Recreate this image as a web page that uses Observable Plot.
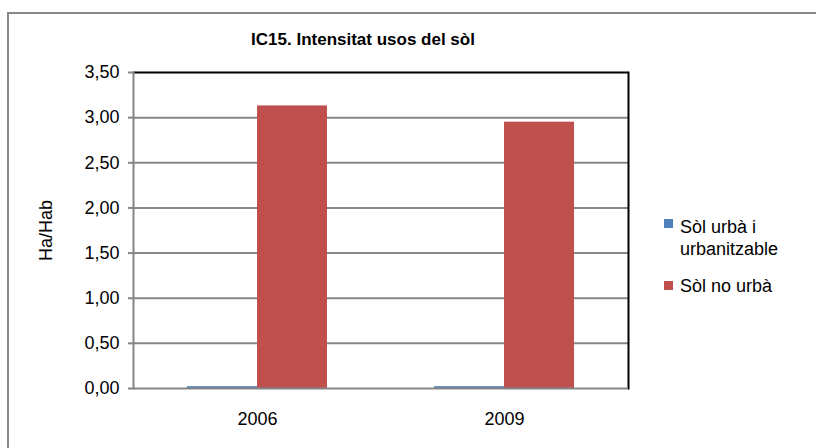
<!DOCTYPE html>
<html>
<head>
<meta charset="utf-8">
<script src="https://cdn.jsdelivr.net/npm/d3@7"></script>
<script src="https://cdn.jsdelivr.net/npm/@observablehq/plot@0.6"></script>
<style>
  html, body { margin: 0; padding: 0; background: white; }
  #wrap { position: relative; width: 816px; height: 448px; overflow: hidden; font-family: "Liberation Sans", Arial, sans-serif; }
  #border { position: absolute; left: 7px; top: 12px; width: 900px; height: 500px; border-left: 2px solid #888; border-top: 2px solid #888; pointer-events: none; }
  #title { position: absolute; left: 0; width: 726px; top: 30px; text-align: center; font-weight: bold; font-size: 17px; color: #000; }
  #legend { position: absolute; left: 664px; top: 216px; font-size: 18px; color: #000; line-height: 22px; }
  .item { position: relative; padding-left: 16px; margin-bottom: 15px; }
  .sw { position: absolute; left: 0; width: 9px; height: 9px; }
</style>
</head>
<body>
<div id="wrap">
  <div id="chart"></div>
  <div id="border"></div>
  <div id="title"></div>
  <div id="legend"></div>
</div>
<script>
const titleText = "IC15. Intensitat usos del sòl";
const yLabel = "Ha/Hab";
const years = ["2006", "2009"];
const series = ["Sòl urbà i urbanitzable", "Sòl no urbà"];
const seriesLines = [["Sòl urbà i", "urbanitzable"], ["Sòl no urbà"]];
const colors = ["#4F81BD", "#C0504D"];
const urbaValues = [0.02, 0.02];
const noUrbaValues = [3.13, 2.95];
const yTicks = [0, 0.5, 1, 1.5, 2, 2.5, 3, 3.5];

const urba = years.map((y, i) => ({year: y, value: urbaValues[i]}));
const noUrba = years.map((y, i) => ({year: y, value: noUrbaValues[i]}));
const fmt = d => d.toFixed(2).replace(".", ",");

const plot = Plot.plot({
  width: 816,
  height: 448,
  marginLeft: 133,
  marginRight: 188,
  marginTop: 72,
  marginBottom: 60,
  style: {background: "transparent", fontFamily: "'Liberation Sans', Arial, sans-serif", fontSize: "18px", color: "#000"},
  x: {domain: years, paddingInner: 0.4343, paddingOuter: 0.2172, label: null},
  y: {domain: [0, 3.5], label: null},
  marks: [
    Plot.ruleY(yTicks.filter(d => d > 0 && d < 3.5), {stroke: "#868686", strokeWidth: 2}),
    Plot.barY(urba, {x: "year", y: "value", fill: colors[0], insetRight: 70}),
    Plot.barY(noUrba, {x: "year", y: "value", fill: colors[1], insetLeft: 70}),
    Plot.ruleY([3.5], {stroke: "#000", strokeWidth: 2}),
    Plot.frame({anchor: "right", stroke: "#000", strokeWidth: 2}),
    Plot.frame({anchor: "left", stroke: "#868686", strokeWidth: 2}),
    Plot.ruleY([0], {stroke: "#868686", strokeWidth: 2}),
    Plot.axisY({ticks: yTicks, tickFormat: fmt, tickSize: 5, tickPadding: 9, stroke: "#868686", strokeWidth: 2, fill: "#000", fontSize: 18, label: null}),
    Plot.axisX({tickSize: 0, tickPadding: 24, fill: "#000", fontSize: 18, label: null}),
    Plot.text([yLabel], {frameAnchor: "left", dx: -87, rotate: -90, textAnchor: "middle", fontSize: 18, fill: "#000"})
  ]
});
document.getElementById("chart").appendChild(plot);
document.getElementById("title").textContent = titleText;

const swatchTops = [3, 6];
const legend = document.getElementById("legend");
series.forEach((s, i) => {
  const item = document.createElement("div");
  item.className = "item";
  const sw = document.createElement("div");
  sw.className = "sw";
  sw.style.background = colors[i];
  sw.style.top = swatchTops[i] + "px";
  item.appendChild(sw);
  seriesLines[i].forEach(line => {
    const l = document.createElement("div");
    l.textContent = line;
    item.appendChild(l);
  });
  legend.appendChild(item);
});
</script>
</body>
</html>
